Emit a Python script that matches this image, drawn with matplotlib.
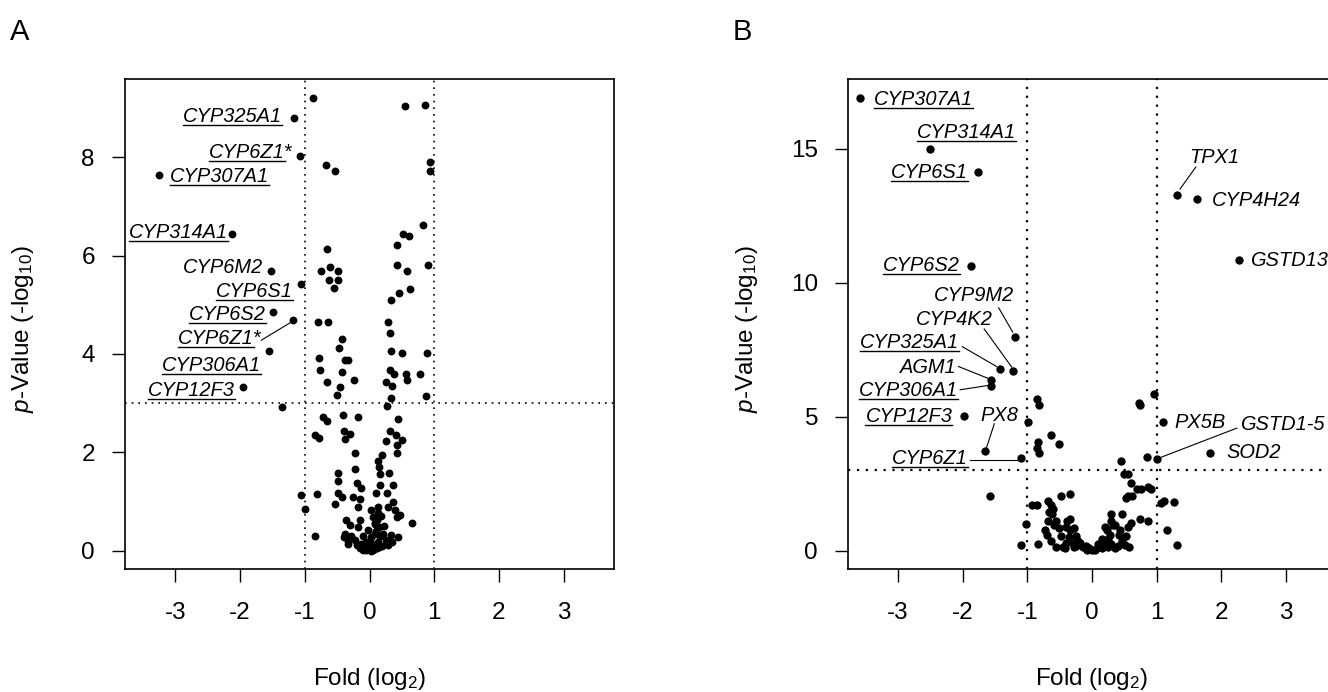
import matplotlib
matplotlib.use('Agg')
import matplotlib.pyplot as plt
import matplotlib.transforms as mtransforms
from matplotlib.lines import Line2D

plt.rcParams['font.family'] = ['Liberation Sans', 'DejaVu Sans']
plt.rcParams['mathtext.fontset'] = 'custom'
plt.rcParams['mathtext.rm'] = 'Liberation Sans'
plt.rcParams['mathtext.it'] = 'Liberation Sans:italic'
plt.rcParams['axes.unicode_minus'] = False

# ---------------- data ----------------
x_ticks = [-3, -2, -1, 0, 1, 2, 3]
x_tick_labels = ['-3', '-2', '-1', '0', '1', '2', '3']
a_y_ticks = [0, 2, 4, 6, 8]
b_y_ticks = [0, 5, 10, 15]
fc_cutoffs = [-1, 1]
p_cutoff = 3

# Panel A: unlabeled genes (log2 fold, -log10 p)
a_fc = [-0.867, -0.666, -0.526, 0.546, 0.856, 0.938, 0.938, 0.82, 0.52, 0.613,
        0.418, -0.65, -0.754, -0.61, -0.49, -0.62, -0.49, -0.548, 0.428, 0.582,
        0.907, 0.624, 0.449, 0.34, -0.795, -0.635, 0.279, 0.319, -0.424, -0.464,
        0.325, 0.505, 0.882, -0.774, -0.38, -0.34, -0.769, -0.429, -0.238, 0.314,
        0.376, 0.562, 0.582, 0.783, -0.65, -0.455, 0.252, 0.35, -0.50, 0.33,
        0.876, 0.268, -1.353, -0.718, -0.65, -0.408, -0.176, 0.438, -0.847, -0.78,
        -0.398, -0.305, -0.382, 0.314, 0.407, 0.248, 0.51, 0.428, 0.422, -0.228,
        0.19, 0.128, 0.144, -0.228, 0.304, 0.17, -0.486, -0.486, -0.2, -0.124,
        0.16, 0.366, -0.486, -0.43, -0.537, -0.254, -0.15, -0.176, -0.805, -1.063,
        -0.99, 0.108, 0.263, 0.366, 0.134, 0.29, 0.39, 0.134, 0.418, 0.66,
        0.469, -0.356, -0.305, -0.15, -0.176, -0.382, -0.33, -0.02, 0.08, 0.08,
        0.21, 0.34, 0.44, 0.26, -0.124, -0.23, -0.02, 0.03, 0.108, -0.1,
        0.134, 0.03, 0.056, 0.03, -0.847, -0.393, -0.33, 0.12, 0.15, 0.10,
        0.17, 0.06, -0.05, 0.0, -0.06, 0.05, 0.20, 0.15, -0.15, -0.20,
        0.28, 0.35, 0.22, -0.28, -0.10, 0.0, -0.08, 0.12, 0.18, 0.09]
a_p = [9.21, 7.84, 7.71, 9.04, 9.06, 7.90, 7.71, 6.63, 6.43, 6.39,
       6.21, 6.13, 5.69, 5.76, 5.69, 5.50, 5.50, 5.35, 5.80, 5.69,
       5.80, 5.33, 5.23, 5.09, 4.64, 4.64, 4.64, 4.43, 4.31, 4.13,
       4.07, 4.02, 4.02, 3.91, 3.87, 3.87, 3.68, 3.63, 3.48, 3.67,
       3.60, 3.59, 3.48, 3.60, 3.43, 3.33, 3.43, 3.34, 3.16, 3.11,
       3.14, 2.95, 2.92, 2.72, 2.64, 2.77, 2.71, 2.67, 2.35, 2.30,
       2.44, 2.37, 2.28, 2.44, 2.35, 2.23, 2.25, 2.15, 1.99, 1.98,
       1.94, 1.82, 1.71, 1.67, 1.59, 1.57, 1.59, 1.42, 1.37, 1.27,
       1.33, 1.33, 1.18, 1.10, 0.96, 1.10, 1.06, 0.89, 1.16, 1.13,
       0.85, 1.17, 1.17, 0.99, 0.89, 0.89, 0.83, 0.76, 0.69, 0.56,
       0.72, 0.62, 0.52, 0.62, 0.49, 0.35, 0.15, 0.42, 0.56, 0.35,
       0.35, 0.32, 0.28, 0.22, 0.15, 0.22, 0.08, 0.00, 0.05, 0.01,
       0.18, 0.28, 0.69, 0.83, 0.30, 0.28, 0.20, 0.62, 0.48, 0.40,
       0.30, 0.12, 0.18, 0.05, 0.02, 0.02, 0.10, 0.08, 0.05, 0.12,
       0.12, 0.18, 0.50, 0.30, 0.30, 0.20, 0.10, 0.05, 0.70, 0.55]

# Panel A: labelled genes
a_genes = ['CYP325A1', 'CYP6Z1*', 'CYP307A1', 'CYP314A1', 'CYP6M2',
           'CYP6S1', 'CYP6S2', 'CYP6Z1*', 'CYP306A1', 'CYP12F3']
a_genes_fc = [-1.167, -1.079, -3.26, -2.13, -1.517, -1.063, -1.486, -1.18, -1.56, -1.96]
a_genes_p = [8.79, 8.03, 7.64, 6.44, 5.69, 5.42, 4.85, 4.70, 4.07, 3.32]

# Panel B: unlabeled genes
b_fc = [0.853, 0.446, 0.96, 0.72, 0.74, -0.853, -0.82, -0.99, -0.636, -0.515,
        -0.84, -0.853, -0.825, -1.577, -0.93, -0.85, -1.09, -1.02, -0.84, -0.68,
        -0.64, -0.62, -0.48, -0.345, -0.72, -0.63, -0.55, -0.51, -0.48, -0.38,
        -0.345, -0.28, -0.45, -0.55, -0.28, -0.21, -0.14, -0.07, 0.0, 0.095,
        0.2, 0.30, 0.47, 0.33, 0.43, 0.51, 0.47, 0.57, 0.23, 0.25,
        0.16, 0.50, 0.55, 0.60, 0.52, 0.55, 0.62, 0.69, 0.75, 0.87,
        0.91, 0.74, 0.87, 0.60, 1.06, 1.12, 1.27, 1.16, 1.31, -0.345,
        -0.24, -0.18, -0.66, -0.60, -0.68, -0.58, -0.70, -0.40, -0.35, -0.30,
        -0.10, -0.05, 0.05, 0.10, 0.15, 0.25, 0.30, 0.35, 0.40, 0.42,
        0.28, 0.35, 0.30, 0.20, -0.25, -0.40, -0.42, 0.52, 0.56]
b_p = [3.50, 3.37, 5.84, 5.53, 5.45, 5.68, 5.43, 4.82, 4.33, 3.97,
       4.08, 3.84, 3.67, 2.04, 1.73, 1.73, 0.21, 1.00, 0.26, 1.86,
       1.70, 1.37, 2.03, 2.14, 0.79, 0.38, 1.12, 0.87, 0.54, 1.12,
       1.20, 0.84, 0.13, 0.16, 0.13, 0.38, 0.13, 0.05, 0.02, 0.13,
       0.30, 1.37, 1.37, 0.96, 0.79, 0.21, 0.38, 0.13, 0.79, 0.46,
       0.46, 2.85, 2.85, 2.52, 1.98, 2.03, 2.03, 2.31, 2.31, 2.39,
       2.32, 1.20, 1.12, 1.04, 1.78, 1.86, 1.83, 0.79, 0.21, 0.79,
       0.54, 0.30, 1.45, 1.55, 1.10, 0.95, 0.60, 0.90, 0.50, 0.30,
       0.20, 0.10, 0.05, 0.25, 0.10, 0.15, 0.25, 0.10, 0.20, 0.60,
       0.60, 0.95, 1.10, 0.90, 0.20, 0.30, 0.10, 0.55, 0.90]

# Panel B: labelled genes
b_genes = ['CYP307A1', 'CYP314A1', 'CYP6S1', 'TPX1', 'CYP4H24', 'GSTD13',
           'CYP6S2', 'CYP9M2', 'CYP4K2', 'CYP325A1', 'AGM1', 'CYP306A1',
           'CYP12F3', 'PX8', 'CYP6Z1', 'PX5B', 'GSTD1-5', 'SOD2']
b_genes_fc = [-3.58, -2.51, -1.77, 1.31, 1.62, 2.27, -1.87, -1.19, -1.22, -1.43,
              -1.565, -1.565, -1.98, -1.65, -1.09, 1.10, 1.01, 1.82]
b_genes_p = [16.91, 15.01, 14.14, 13.29, 13.14, 10.85, 10.62, 7.97, 6.72, 6.78,
             6.39, 6.17, 5.04, 3.74, 3.46, 4.82, 3.42, 3.67]

# ---------------- label layout (text anchor in data units, alignment, underline, leader) ----
a_layout = [
    (-1.347, 8.85, 'right', True, None),
    (-1.19, 8.13, 'right', True, None),
    (-3.09, 7.64, 'left', True, None),
    (-2.19, 6.51, 'right', True, None),
    (-1.647, 5.79, 'right', False, None),
    (-1.183, 5.31, 'right', True, None),
    (-1.605, 4.83, 'right', True, None),
    (-1.672, 4.35, 'right', True, ((-1.672, -1.207), (4.28, 4.65))),
    (-1.672, 3.80, 'right', True, None),
    (-2.085, 3.30, 'right', True, None),
]
b_layout = [
    (-3.37, 16.91, 'left', True, None),
    (-1.17, 15.66, 'right', True, None),
    (-1.917, 14.18, 'right', True, None),
    (1.503, 14.75, 'left', False, ((1.361, 1.605), (13.50, 14.32))),
    (1.855, 13.12, 'left', False, None),
    (2.45, 10.91, 'left', False, None),
    (-2.04, 10.70, 'right', True, None),
    (-1.211, 9.60, 'right', False, ((-1.443, -1.225), (9.07, 8.16))),
    (-1.531, 8.69, 'right', False, ((-1.667, -1.239), (8.28, 6.85))),
    (-2.059, 7.85, 'right', True, ((-2.005, -1.477), (7.62, 6.88))),
    (-2.093, 6.91, 'right', False, ((-2.065, -1.611), (6.88, 6.44))),
    (-2.072, 6.03, 'right', True, ((-2.039, -1.611), (6.01, 6.17))),
    (-2.16, 5.07, 'right', True, None),
    (-1.145, 5.12, 'right', False, ((-1.511, -1.633), (4.74, 3.83))),
    (-1.917, 3.50, 'right', True, ((-1.889, -1.145), (3.39, 3.39))),
    (1.279, 4.87, 'left', False, None),
    (2.282, 4.79, 'left', False, ((2.24, 1.076), (4.58, 3.50))),
    (2.073, 3.72, 'left', False, None),
]

# ---------------- figure ----------------
W, H = 1328, 692
fig = plt.figure(figsize=(W / 100, H / 100), dpi=100)


def px_rect(l, t, r, b):
    return [l / W, 1 - b / H, (r - l) / W, (b - t) / H]


axA = fig.add_axes(px_rect(125, 79.4, 614, 569))
axB = fig.add_axes(px_rect(847.5, 79.4, 1336.5, 569))

TICK_FS = 17.5
GENE_FS = 14.4


def style_axes(ax, yticks, ylim, dot_lw, ypad):
    ax.set_xlim(-3.78, 3.78)
    ax.set_ylim(*ylim)
    ax.set_xticks(x_ticks)
    ax.set_xticklabels(x_tick_labels)
    ax.set_yticks(yticks)
    ax.set_yticklabels([str(v) for v in yticks])
    ax.tick_params(direction='out', length=9.7, width=1.0, labelsize=TICK_FS, colors='black')
    ax.tick_params(axis='x', pad=14)
    ax.tick_params(axis='y', pad=ypad)
    for s in ax.spines.values():
        s.set_linewidth(1.2)
    for c in fc_cutoffs:
        ax.axvline(c, color='black', lw=dot_lw, ls=(0, (1, 3)), zorder=1)
    ax.axhline(p_cutoff, color='black', lw=dot_lw, ls=(0, (1, 3)), zorder=1)


style_axes(axA, a_y_ticks, (-0.368, 9.578), 1.2, 12)
style_axes(axB, b_y_ticks, (-0.676, 17.59), 1.6, 11.5)

axA.scatter(a_fc, a_p, s=32, color='black', linewidths=0, zorder=3)
axA.scatter(a_genes_fc, a_genes_p, s=32, color='black', linewidths=0, zorder=3)
axB.scatter(b_fc, b_p, s=36, color='black', linewidths=0, zorder=3)
axB.scatter(b_genes_fc, b_genes_p, s=36, color='black', linewidths=0, zorder=3)

cap_half = 0.716 * GENE_FS / 2.0
underlines = []


def add_labels(ax, genes, layout):
    tr = mtransforms.offset_copy(ax.transData, fig=fig, y=-cap_half, units='points')
    for g, (tx, ty, ha, ul, leader) in zip(genes, layout):
        t = ax.text(tx, ty, g, ha=ha, va='baseline', fontsize=GENE_FS,
                    style='italic', transform=tr, zorder=4, clip_on=False)
        if ul:
            underlines.append((ax, t, g))
        if leader is not None:
            ax.plot(leader[0], leader[1], color='black', lw=0.8, zorder=2)


add_labels(axA, a_genes, a_layout)
add_labels(axB, b_genes, b_layout)

# panel letters, axis titles
fig.text(10 / W, 1 - 40 / H, 'A', fontsize=21, ha='left', va='baseline')
fig.text(733 / W, 1 - 40 / H, 'B', fontsize=21, ha='left', va='baseline')
for cx in (369.5, 1092.0):
    fig.text(cx / W, 1 - 679 / H, r'Fold (log$_{\mathrm{2}}$)', fontsize=TICK_FS,
             ha='center', va='center')
for cx in (23, 747):
    fig.text(cx / W, 1 - 329 / H, r'$p$-Value (-log$_{\mathrm{10}}$)', fontsize=TICK_FS,
             rotation=90, ha='center', va='center')

# underlines (only the gene name, not a trailing asterisk)
fig.canvas.draw()
renderer = fig.canvas.get_renderer()
for ax, t, g in underlines:
    bb = t.get_window_extent(renderer)
    x0, x1 = bb.x0, bb.x1
    name = g.rstrip('*')
    if name != g:
        tmp = ax.text(0, 0, name, fontsize=GENE_FS, style='italic')
        w = tmp.get_window_extent(renderer).width
        tmp.remove()
        x1 = x0 + w
    xb, yb = t.get_transform().transform(t.get_position())
    yl = yb - 3.0
    fig.add_artist(Line2D([x0 / W, x1 / W], [yl / H, yl / H], transform=fig.transFigure,
                          color='black', lw=1.0))

fig.savefig('out.png', dpi=100)
